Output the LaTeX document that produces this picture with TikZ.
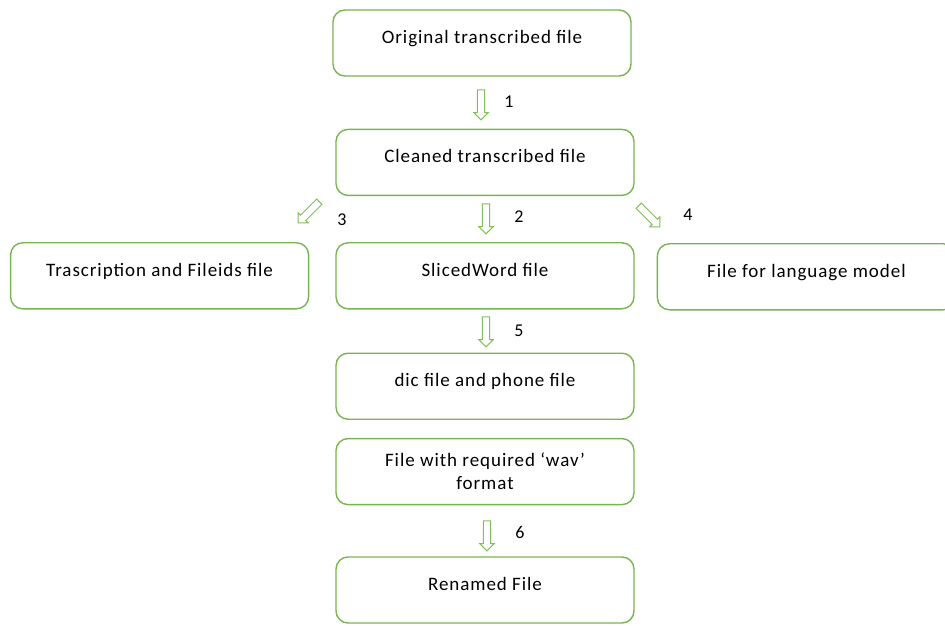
\documentclass[tikz,border=0pt]{standalone}
\usepackage{fontspec}
\setmainfont{Carlito}[LetterSpace=5]
\usepackage{tikz}
\usetikzlibrary{positioning}
\usetikzlibrary{shapes.arrows}

\definecolor{boxgreen}{RGB}{120,180,80}
\definecolor{arrowgreen}{RGB}{130,190,90}

\tikzset{
    filebox/.style={draw=boxgreen, line width=1.4pt, rounded corners=12pt,
        minimum width=298pt, minimum height=66pt, inner sep=0pt,
        align=center, font=\fontsize{19}{23}\selectfont},
    oneline/.style={filebox, text height=13pt, text depth=12pt},
    stepbox/.style={single arrow, draw=arrowgreen, fill=white, line width=1pt,
        minimum height=30pt, inner sep=3.2pt, single arrow head extend=3.5pt,
        single arrow tip angle=90},
    steplabel/.style={font=\fontsize{18}{20}\selectfont},
}

\begin{document}
\begin{tikzpicture}[x=1pt, y=1pt]
    \useasboundingbox (0,0) rectangle (945,625);

    % main column
    \node[oneline] (orig) at (482,582) {Original transcribed file};
    \node[oneline, below=52pt of orig.south, anchor=north, xshift=3pt] (clean) {Cleaned transcribed file};
    \node[oneline, below=46pt of clean.south, anchor=north] (sliced) {SlicedWord file};
    \node[oneline, left=26pt of sliced] (trans) {Trascription and Fileids file};
    \node[oneline, right=22pt of sliced, yshift=-1pt] (lm) {File for language model};
    \node[oneline, below=43pt of sliced.south, anchor=north] (dic) {dic file and phone file};
    \node[filebox, below=18pt of dic.south, anchor=north] (wav) {File with required `wav'\\format};
    \node[oneline, below=51pt of wav.south, anchor=north] (renamed) {Renamed File};

    % block arrows between the boxes
    \node[stepbox, rotate=-90] (s1) at (481,522) {};
    \node[stepbox, rotate=-90] (s2) at (486,408) {};
    \node[stepbox, rotate=-135] (s3) at (310,414) {};
    \node[stepbox, rotate=-45] (s4) at (648,410) {};
    \node[stepbox, rotate=-90] (s5) at (486,295) {};
    \node[stepbox, rotate=-90] (s6) at (487,91) {};

    \node[steplabel] (n1) at (509,523) {1};
    \node[steplabel] (n2) at (519,408) {2};
    \node[steplabel] (n3) at (342,405) {3};
    \node[steplabel] (n4) at (688,410) {4};
    \node[steplabel] (n5) at (519,294) {5};
    \node[steplabel] (n6) at (520,93) {6};
\end{tikzpicture}
\end{document}
